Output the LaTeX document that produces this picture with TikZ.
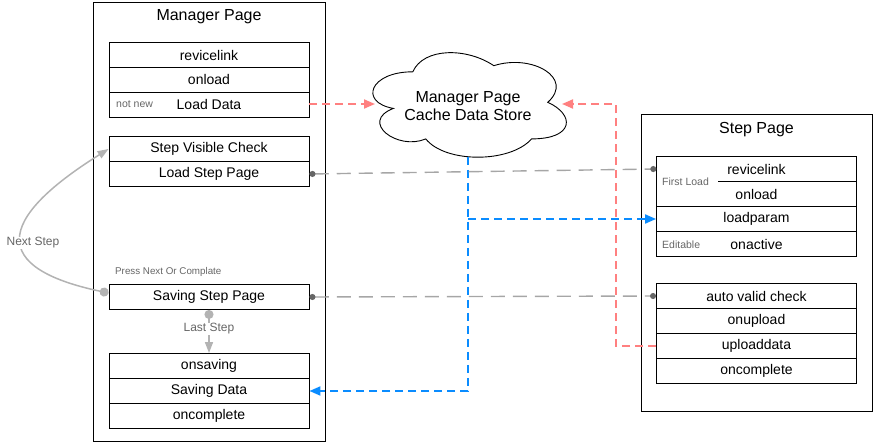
\documentclass[tikz,border=0pt]{standalone}
\usepackage{fontspec}
\setmainfont{Liberation Sans}
\usetikzlibrary{arrows.meta,calc}
\definecolor{redc}{HTML}{FF8080}
\definecolor{bluec}{HTML}{0A8CFF}
\definecolor{grayl}{HTML}{B3B3B3}
\definecolor{grayd}{HTML}{666666}
\definecolor{graym}{HTML}{A6A6A6}
\begin{document}
\begin{tikzpicture}[x=1pt,y=-1pt,
  rowbox/.style={draw, line width=0.9pt, minimum width=200pt, minimum height=25pt, inner sep=0pt, font=\fontsize{14}{16}\selectfont},
  rowtext/.style={minimum width=200pt, minimum height=25pt, inner sep=0pt, font=\fontsize{14}{16}\selectfont},
  frame/.style={draw, line width=0.9pt, inner sep=0pt},
  ttl/.style={font=\fontsize{16}{18}\selectfont, inner sep=0pt},
  smalltxt/.style={font=\fontsize{10.5}{12}\selectfont, text=grayd, inner sep=0pt},
  lbl/.style={font=\fontsize{12}{14}\selectfont, text=grayd, fill=white, inner sep=1pt},
  reddash/.style={draw=redc, line width=1.9pt, dash pattern=on 8pt off 5pt},
  bluedash/.style={draw=bluec, line width=1.9pt, dash pattern=on 8pt off 5pt},
  graydash/.style={draw=graym, line width=1.4pt, dash pattern=on 14pt off 8pt},
  graycurve/.style={draw=grayl, line width=1.5pt},
  tri/.style={-{Triangle[length=11pt,width=9pt]}},
  dots/.style={{Circle[length=6pt,color=grayd]}-{Circle[length=6pt,color=grayd]}}
]
\useasboundingbox (0,0) rectangle (873,443);

% Manager page
\node[frame, minimum width=232pt, minimum height=439pt] (mgr) at (209,221.5) {};
\node[ttl] (mgrt) at (209,17) {Manager Page};
\node[rowbox] (mrev) at (209,55) {revicelink};
\node[rowbox] (monload) at (209,80) {onload};
\node[rowbox] (loaddata) at (209,105) {Load Data};
\node[smalltxt, anchor=west] (notnew) at (116,104) {not new};
\node[rowbox] (stepvis) at (209,149) {Step Visible Check};
\node[rowbox] (loadstep) at (209,174) {Load Step Page};
\node[smalltxt, anchor=west, font=\fontsize{9.8}{11}\selectfont] (press) at (115,272) {Press Next Or Complate};
\node[rowbox] (savingstep) at (209,297) {Saving Step Page};
\node[rowbox] (onsaving) at (209,366) {onsaving};
\node[rowbox] (savingdata) at (209,391) {Saving Data};
\node[rowbox] (mcomp) at (209,416) {oncomplete};

% Cloud
\node[minimum width=216pt, minimum height=122pt, inner sep=0pt] (cloud) at (467,102.5) {};
\begin{scope}[shift={(cloud.north west)}, x=216pt, y=-122pt]
\draw[line width=0.9pt, fill=white] (0.25,0.25) .. controls (0.05,0.25) and (0,0.5) .. (0.16,0.55)
  .. controls (0,0.66) and (0.18,0.9) .. (0.31,0.8)
  .. controls (0.4,1) and (0.7,1) .. (0.8,0.8)
  .. controls (1,0.8) and (1,0.6) .. (0.875,0.5)
  .. controls (1,0.3) and (0.8,0.1) .. (0.625,0.2)
  .. controls (0.5,0.05) and (0.3,0.05) .. (0.25,0.25) -- cycle;
\end{scope}
\node[align=center, inner sep=0pt, font=\fontsize{16}{18.5}\selectfont] (cloudtxt) at (468,106) {Manager Page\\Cache Data Store};
\coordinate (cloudL) at (375,104);
\coordinate (cloudR) at (562,104);
\coordinate (cloudB) at (468,157);

% Step page
\node[frame, minimum width=231pt, minimum height=297pt] (stp) at (756.5,262.5) {};
\node[ttl] (stpt) at (756.5,130) {Step Page};
\node[frame, minimum width=200pt, minimum height=50pt] (firstblk) at (756.5,181.5) {};
\node[rowtext] (srev) at (756.5,169) {revicelink};
\node[rowtext] (sonload) at (756.5,194) {onload};
\draw[line width=0.9pt] (718,181.5) -- (firstblk.east);
\node[smalltxt, anchor=west] (firstload) at (662,182) {First Load};
\node[rowbox] (loadparam) at (756.5,219) {loadparam};
\node[rowbox] (onactive) at (756.5,244) {onactive};
\node[smalltxt, anchor=west] (editable) at (662,245) {Editable};
\node[rowbox] (autovalid) at (756.5,296) {auto valid check};
\node[rowbox] (onupload) at (756.5,321) {onupload};
\node[rowbox] (uploaddata) at (756.5,346) {uploaddata};
\node[rowbox] (scomp) at (756.5,371) {oncomplete};

% Red connectors
\draw[reddash, tri] (loaddata.east |- cloudL) -- (cloudL);
\draw[reddash, tri] (uploaddata.west) -- (616,346) -- (616,104) -- (cloudR);

% Blue connectors
\draw[bluedash, tri] (cloudB) -- (cloudB |- savingdata.east) -- (savingdata.east);
\draw[bluedash, tri] (cloudB |- loadparam.west) -- (loadparam.west);

% Gray dashed
\draw[graydash, dots] (loadstep.east) -- (srev.west);
\draw[graydash, dots] (savingstep.east) -- (autovalid.west);

% Next step curve
\draw[graycurve, {Circle[length=9pt]}-{Triangle[length=11pt,width=8pt]}]
  ([yshift=4pt]savingstep.west) .. controls (-10,268) and (-5,220) .. (stepvis.west);
\node[lbl] (nextlbl) at (33,243) {Next Step};

% Last step
\draw[graycurve, {Circle[length=9pt]}-{Triangle[length=11pt,width=8pt]}]
  (savingstep.south) -- (onsaving.north);
\node[lbl] (lastlbl) at (209,329) {Last Step};
\end{tikzpicture}
\end{document}
